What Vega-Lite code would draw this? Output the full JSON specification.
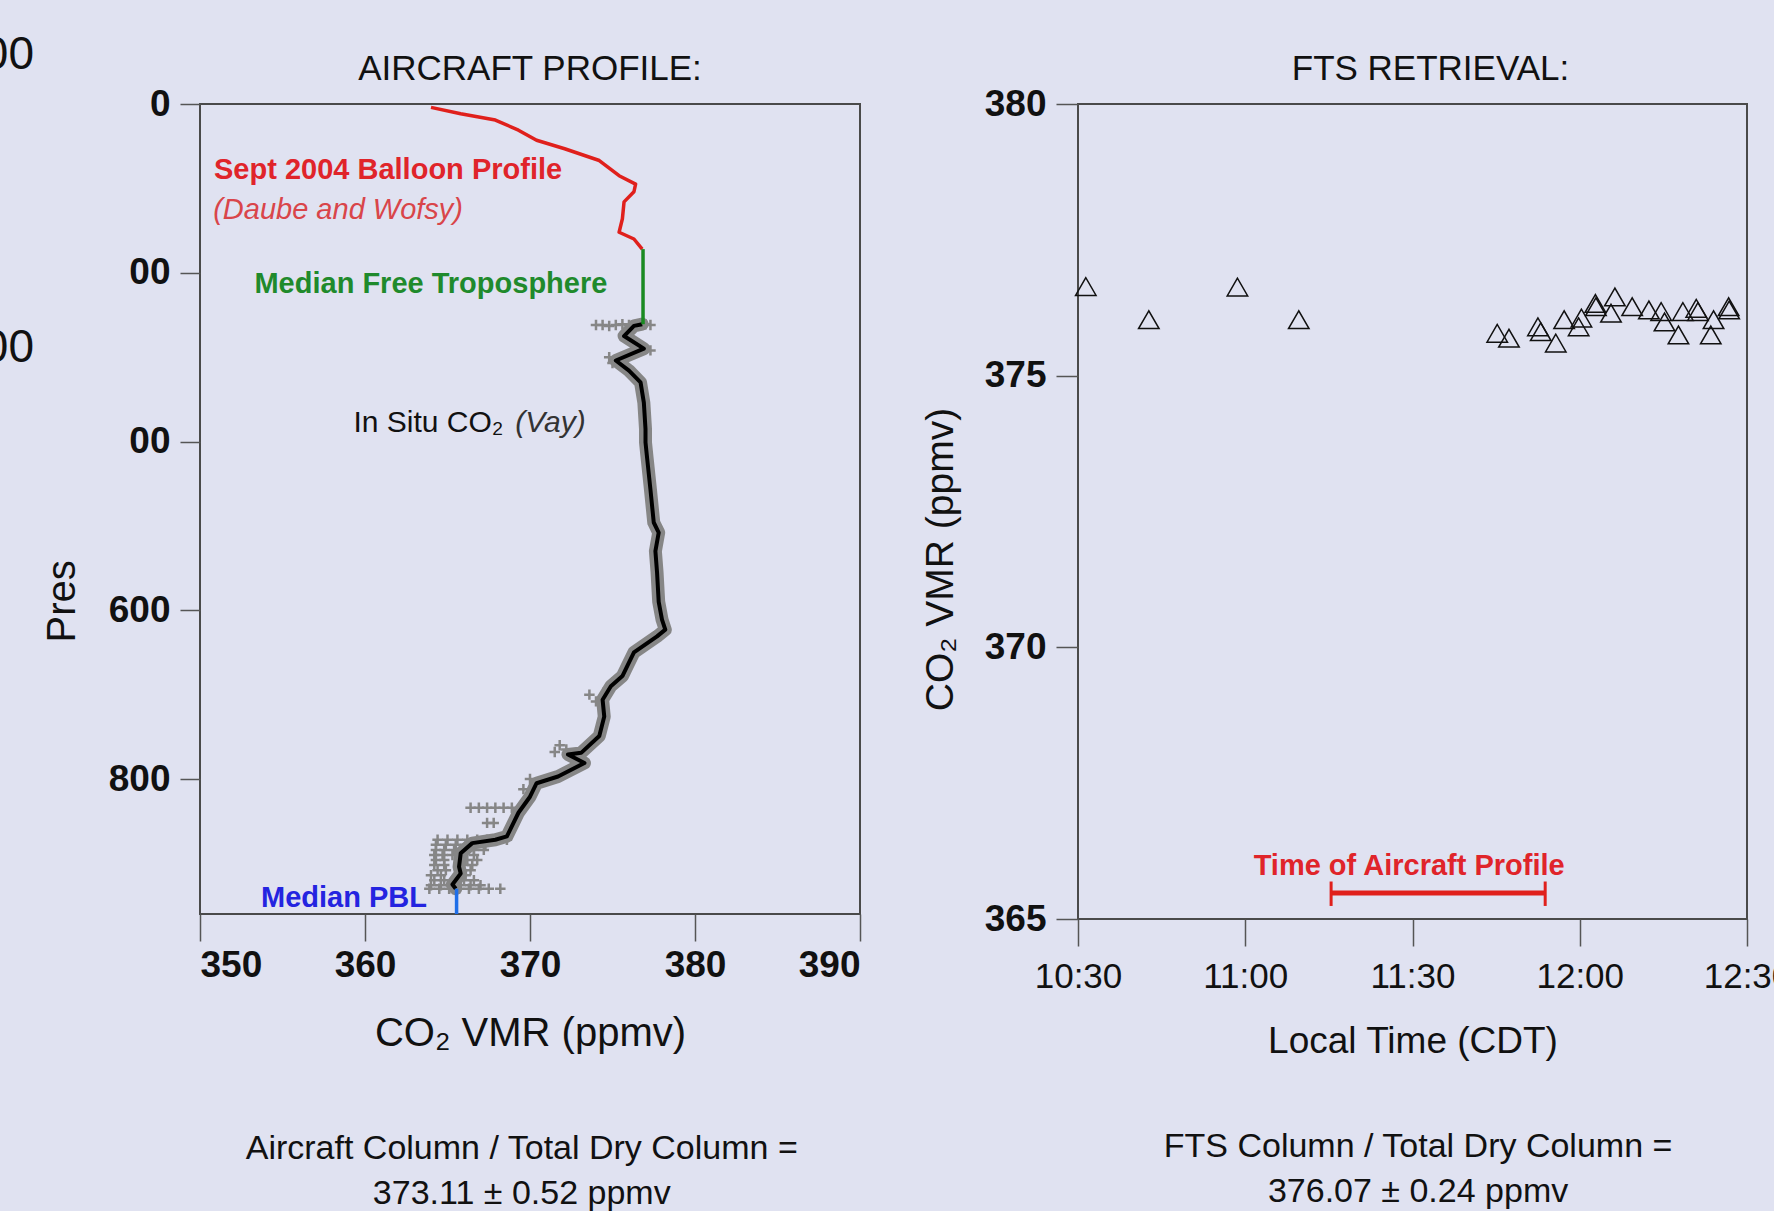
{
  "$schema": "https://vega.github.io/schema/vega-lite/v6.json",
  "background": "#e0e2f1",
  "padding": {"left": -19, "top": 30, "right": 0, "bottom": 0},
  "spacing": 58,
  "config": {
    "font": "Liberation Sans",
    "view": {"stroke": "#4a4a4a", "strokeWidth": 2},
    "axis": {"domain": false, "grid": false, "tickColor": "#555555", "tickWidth": 1.5, "labelColor": "#111111", "titleColor": "#111111", "titleFontWeight": "normal"}
  },
  "datasets": {
    "insitu": [
      {"co2": 376.8, "p": 261}, {"co2": 376.3, "p": 263}, {"co2": 375.7, "p": 275}, {"co2": 376.9, "p": 290},
      {"co2": 375.2, "p": 304}, {"co2": 376.0, "p": 316}, {"co2": 376.7, "p": 330}, {"co2": 376.9, "p": 354},
      {"co2": 377.0, "p": 385}, {"co2": 377.0, "p": 401}, {"co2": 377.1, "p": 420}, {"co2": 377.3, "p": 457},
      {"co2": 377.5, "p": 496}, {"co2": 377.8, "p": 508}, {"co2": 377.6, "p": 530}, {"co2": 377.7, "p": 555},
      {"co2": 377.8, "p": 590}, {"co2": 378.0, "p": 611}, {"co2": 378.2, "p": 623}, {"co2": 377.7, "p": 631},
      {"co2": 376.3, "p": 650}, {"co2": 375.9, "p": 666}, {"co2": 375.6, "p": 678}, {"co2": 374.9, "p": 690},
      {"co2": 374.4, "p": 706}, {"co2": 374.5, "p": 726}, {"co2": 374.2, "p": 749}, {"co2": 373.1, "p": 769},
      {"co2": 372.3, "p": 771}, {"co2": 373.3, "p": 781}, {"co2": 371.7, "p": 797}, {"co2": 370.4, "p": 805},
      {"co2": 370.0, "p": 821}, {"co2": 369.3, "p": 840}, {"co2": 369.0, "p": 852}, {"co2": 368.6, "p": 868},
      {"co2": 367.9, "p": 872}, {"co2": 366.5, "p": 876}, {"co2": 365.8, "p": 888}, {"co2": 365.7, "p": 904},
      {"co2": 365.8, "p": 912}, {"co2": 365.3, "p": 925}, {"co2": 365.5, "p": 930}
    ],
    "crosses": [
      {"co2": 374.0, "p": 262}, {"co2": 374.4, "p": 262}, {"co2": 374.8, "p": 263}, {"co2": 375.2, "p": 262}, {"co2": 375.6, "p": 261}, {"co2": 376.0, "p": 262}, {"co2": 376.6, "p": 262}, {"co2": 377.0, "p": 261}, {"co2": 377.3, "p": 262},
      {"co2": 374.8, "p": 300}, {"co2": 375.0, "p": 307}, {"co2": 377.3, "p": 292},
      {"co2": 375.0, "p": 686}, {"co2": 374.7, "p": 693}, {"co2": 373.6, "p": 700}, {"co2": 374.0, "p": 708},
      {"co2": 371.8, "p": 760}, {"co2": 372.2, "p": 765}, {"co2": 371.5, "p": 768},
      {"co2": 370.0, "p": 800}, {"co2": 370.5, "p": 808}, {"co2": 369.6, "p": 812},
      {"co2": 366.4, "p": 834}, {"co2": 366.9, "p": 834}, {"co2": 367.4, "p": 834}, {"co2": 367.9, "p": 834}, {"co2": 368.4, "p": 834}, {"co2": 368.9, "p": 834},
      {"co2": 367.4, "p": 852}, {"co2": 367.8, "p": 852},
      {"co2": 364.4, "p": 872}, {"co2": 365.0, "p": 872}, {"co2": 365.6, "p": 872}, {"co2": 366.2, "p": 872}, {"co2": 366.8, "p": 872}, {"co2": 367.4, "p": 872}, {"co2": 368.0, "p": 872}, {"co2": 368.6, "p": 872},
      {"co2": 364.3, "p": 878}, {"co2": 364.9, "p": 878}, {"co2": 365.5, "p": 878}, {"co2": 366.1, "p": 878}, {"co2": 366.7, "p": 878}, {"co2": 367.3, "p": 878},
      {"co2": 364.3, "p": 884}, {"co2": 364.8, "p": 884}, {"co2": 365.4, "p": 884}, {"co2": 366.0, "p": 884}, {"co2": 366.6, "p": 884}, {"co2": 367.2, "p": 884},
      {"co2": 364.2, "p": 890}, {"co2": 364.7, "p": 890}, {"co2": 365.3, "p": 890}, {"co2": 366.6, "p": 890},
      {"co2": 364.3, "p": 896}, {"co2": 364.8, "p": 896}, {"co2": 366.2, "p": 896}, {"co2": 366.8, "p": 896},
      {"co2": 364.2, "p": 902}, {"co2": 364.8, "p": 902}, {"co2": 366.0, "p": 902}, {"co2": 366.5, "p": 902},
      {"co2": 364.4, "p": 908}, {"co2": 364.9, "p": 908}, {"co2": 365.9, "p": 908}, {"co2": 366.4, "p": 908},
      {"co2": 364.0, "p": 914}, {"co2": 364.6, "p": 914}, {"co2": 366.1, "p": 914},
      {"co2": 364.2, "p": 920}, {"co2": 364.8, "p": 920}, {"co2": 366.0, "p": 920}, {"co2": 366.6, "p": 920},
      {"co2": 364.0, "p": 926}, {"co2": 364.6, "p": 926}, {"co2": 365.2, "p": 926}, {"co2": 365.8, "p": 926}, {"co2": 366.4, "p": 926}, {"co2": 367.0, "p": 926},
      {"co2": 363.9, "p": 930}, {"co2": 364.5, "p": 930}, {"co2": 365.1, "p": 930}, {"co2": 365.7, "p": 930}, {"co2": 366.3, "p": 930}, {"co2": 366.9, "p": 930}, {"co2": 367.5, "p": 930}, {"co2": 368.2, "p": 930}
    ],
    "balloon": [
      {"co2": 364.0, "p": 4}, {"co2": 365.8, "p": 11.5}, {"co2": 367.9, "p": 19}, {"co2": 369.3, "p": 31},
      {"co2": 370.4, "p": 43}, {"co2": 372.1, "p": 53}, {"co2": 374.2, "p": 67}, {"co2": 375.4, "p": 85},
      {"co2": 376.4, "p": 95}, {"co2": 376.3, "p": 104}, {"co2": 375.7, "p": 116}, {"co2": 375.6, "p": 136},
      {"co2": 375.4, "p": 152}, {"co2": 376.3, "p": 160}, {"co2": 376.8, "p": 172}
    ],
    "freetrop": [{"co2": 376.85, "p": 172}, {"co2": 376.85, "p": 261}],
    "pbl": [{"co2": 365.55, "p": 930}, {"co2": 365.55, "p": 960}],
    "fts": [
      {"t": "2004-09-15T10:31:24", "v": 376.64}, {"t": "2004-09-15T10:42:42", "v": 376.03},
      {"t": "2004-09-15T10:58:36", "v": 376.63}, {"t": "2004-09-15T11:09:36", "v": 376.03},
      {"t": "2004-09-15T11:45:12", "v": 375.78}, {"t": "2004-09-15T11:47:18", "v": 375.69},
      {"t": "2004-09-15T11:52:30", "v": 375.90}, {"t": "2004-09-15T11:53:00", "v": 375.81},
      {"t": "2004-09-15T11:55:42", "v": 375.60}, {"t": "2004-09-15T11:57:12", "v": 376.03},
      {"t": "2004-09-15T11:59:48", "v": 375.90}, {"t": "2004-09-15T12:00:18", "v": 376.06},
      {"t": "2004-09-15T12:02:54", "v": 376.27}, {"t": "2004-09-15T12:02:48", "v": 376.33},
      {"t": "2004-09-15T12:05:36", "v": 376.15}, {"t": "2004-09-15T12:06:18", "v": 376.45},
      {"t": "2004-09-15T12:09:24", "v": 376.27}, {"t": "2004-09-15T12:12:24", "v": 376.21},
      {"t": "2004-09-15T12:14:36", "v": 376.18}, {"t": "2004-09-15T12:15:12", "v": 375.99},
      {"t": "2004-09-15T12:17:42", "v": 375.75}, {"t": "2004-09-15T12:18:30", "v": 376.18},
      {"t": "2004-09-15T12:20:54", "v": 376.24}, {"t": "2004-09-15T12:21:12", "v": 376.18},
      {"t": "2004-09-15T12:23:30", "v": 375.75}, {"t": "2004-09-15T12:24:00", "v": 376.03},
      {"t": "2004-09-15T12:26:42", "v": 376.27}, {"t": "2004-09-15T12:26:48", "v": 376.21}
    ]
  },
  "hconcat": [
    {
      "width": 660,
      "height": 810,
      "title": {"text": "AIRCRAFT PROFILE:", "fontSize": 35, "fontWeight": "normal", "color": "#111111", "frame": "group", "baseline": "alphabetic", "offset": -83},
      "encoding": {
        "x": {"field": "co2", "type": "quantitative",
          "scale": {"domain": [350, 390], "nice": false, "zero": false},
          "axis": {"values": [350, 360, 370, 380, 390], "tickSize": 27, "labelPadding": 6, "labelFontWeight": "bold", "labelFontSize": 37,
            "title": "CO₂ VMR (ppmv)", "titleFontSize": 40, "titlePadding": 30}},
        "y": {"field": "p", "type": "quantitative",
          "scale": {"domain": [0, 960], "reverse": true, "nice": false, "zero": false},
          "axis": {"values": [0, 200, 400, 600, 800], "labelExpr": "datum.value == 200 || datum.value == 400 ? '00' : datum.label", "tickSize": 20, "labelPadding": 10, "labelFontWeight": "bold", "labelFontSize": 37,
            "title": "Pres", "titleFontSize": 40, "titleAngle": -90, "titleAlign": "left", "titleBaseline": "middle", "titleX": -138, "titleY": 538}}
      },
      "layer": [
        {"data": {"name": "insitu"}, "mark": {"type": "line", "stroke": "#868686", "strokeWidth": 13, "strokeJoin": "round", "strokeCap": "round"}, "encoding": {"order": {"field": "p"}}},
        {"data": {"name": "crosses"}, "mark": {"type": "point", "shape": "M-1,0L1,0M0,-1L0,1", "filled": false, "stroke": "#868686", "strokeWidth": 2.5, "size": 110, "opacity": 1}},
        {"data": {"name": "insitu"}, "mark": {"type": "line", "stroke": "#000000", "strokeWidth": 4, "strokeJoin": "round"}, "encoding": {"order": {"field": "p"}}},
        {"data": {"name": "balloon"}, "mark": {"type": "line", "stroke": "#e0201c", "strokeWidth": 3.5, "strokeJoin": "round"}, "encoding": {"order": {"field": "p"}}},
        {"data": {"name": "freetrop"}, "mark": {"type": "line", "stroke": "#1a8a22", "strokeWidth": 3.5}, "encoding": {"order": {"field": "p"}}},
        {"data": {"name": "pbl"}, "mark": {"type": "line", "stroke": "#1e6ee8", "strokeWidth": 3.5}, "encoding": {"order": {"field": "p"}}},
        {"data": {"values": [{"co2": 350.85, "p": 88.5, "label": "Sept 2004 Balloon Profile"}]},
          "mark": {"type": "text", "align": "left", "baseline": "alphabetic", "fontSize": 29, "fontWeight": "bold", "color": "#e0242a"},
          "encoding": {"text": {"field": "label"}}},
        {"data": {"values": [{"co2": 350.8, "p": 135.9, "label": "(Daube and Wofsy)"}]},
          "mark": {"type": "text", "align": "left", "baseline": "alphabetic", "fontSize": 29, "fontStyle": "italic", "color": "#d9454a"},
          "encoding": {"text": {"field": "label"}}},
        {"data": {"values": [{"co2": 353.3, "p": 223.6, "label": "Median Free Troposphere"}]},
          "mark": {"type": "text", "align": "left", "baseline": "alphabetic", "fontSize": 29, "fontWeight": "bold", "color": "#1f8a2c"},
          "encoding": {"text": {"field": "label"}}},
        {"data": {"values": [{"co2": 359.3, "p": 388.7, "label": "In Situ CO₂"}]},
          "mark": {"type": "text", "align": "left", "baseline": "alphabetic", "fontSize": 30, "color": "#111111"},
          "encoding": {"text": {"field": "label"}}},
        {"data": {"values": [{"co2": 369.1, "p": 388.7, "label": "(Vay)"}]},
          "mark": {"type": "text", "align": "left", "baseline": "alphabetic", "fontSize": 30, "fontStyle": "italic", "color": "#333333"},
          "encoding": {"text": {"field": "label"}}},
        {"data": {"values": [{"co2": 353.7, "p": 951.7, "label": "Median PBL"}]},
          "mark": {"type": "text", "align": "left", "baseline": "alphabetic", "fontSize": 29, "fontWeight": "bold", "color": "#2424e0"},
          "encoding": {"text": {"field": "label"}}},
        {"data": {"values": [{"co2": 339.94, "p": -41.5, "label": "00"}, {"co2": 339.94, "p": 305.8, "label": "00"}]},
          "mark": {"type": "text", "align": "right", "baseline": "alphabetic", "fontSize": 46, "color": "#111111"},
          "encoding": {"text": {"field": "label"}}},
        {"data": {"values": [{"co2": 369.5, "p": 1250.4, "label": "Aircraft Column / Total Dry Column ="}, {"co2": 369.5, "p": 1303.7, "label": "373.11 ± 0.52 ppmv"}]},
          "mark": {"type": "text", "align": "center", "baseline": "alphabetic", "fontSize": 34, "color": "#111111"},
          "encoding": {"text": {"field": "label"}}}
      ]
    },
    {
      "width": 669,
      "height": 815,
      "title": {"text": "FTS RETRIEVAL:", "fontSize": 35, "fontWeight": "normal", "color": "#111111", "frame": "group", "baseline": "alphabetic", "offset": -30, "dx": 18},
      "encoding": {
        "x": {"field": "t", "type": "temporal",
          "scale": {"domain": [{"year": 2004, "month": 9, "date": 15, "hours": 10, "minutes": 30}, {"year": 2004, "month": 9, "date": 15, "hours": 12, "minutes": 30}], "nice": false},
          "axis": {"values": [{"year": 2004, "month": 9, "date": 15, "hours": 10, "minutes": 30}, {"year": 2004, "month": 9, "date": 15, "hours": 11, "minutes": 0}, {"year": 2004, "month": 9, "date": 15, "hours": 11, "minutes": 30}, {"year": 2004, "month": 9, "date": 15, "hours": 12, "minutes": 0}, {"year": 2004, "month": 9, "date": 15, "hours": 12, "minutes": 30}],
            "format": "%H:%M", "tickSize": 27, "labelPadding": 13, "labelFontSize": 35, "labelFlush": false, "labelOverlap": false,
            "title": "Local Time (CDT)", "titleFontSize": 37, "titlePadding": 29}},
        "y": {"field": "v", "type": "quantitative",
          "scale": {"domain": [365, 380], "nice": false, "zero": false},
          "axis": {"values": [365, 370, 375, 380], "tickSize": 22, "labelPadding": 10, "labelFontWeight": "bold", "labelFontSize": 37,
            "title": "CO₂ VMR (ppmv)", "titleFontSize": 39, "titlePadding": 24, "titleY": 455}}
      },
      "layer": [
        {"data": {"name": "fts", "format": {"parse": {"t": "date"}}}, "mark": {"type": "point", "shape": "triangle-up", "filled": false, "stroke": "#111111", "strokeWidth": 1.5, "size": 420, "opacity": 1}},
        {"data": {"values": [{"t": "2004-09-15T11:15:24", "t2": "2004-09-15T11:53:48", "v": 365.48}], "format": {"parse": {"t": "date", "t2": "date"}}},
          "mark": {"type": "rule", "stroke": "#e0201c", "strokeWidth": 5},
          "encoding": {"x2": {"field": "t2"}}},
        {"data": {"values": [{"t": "2004-09-15T11:15:24", "v": 365.24, "v2": 365.69}, {"t": "2004-09-15T11:53:48", "v": 365.24, "v2": 365.69}], "format": {"parse": {"t": "date"}}},
          "mark": {"type": "rule", "stroke": "#e0201c", "strokeWidth": 3},
          "encoding": {"y2": {"field": "v2"}}},
        {"data": {"values": [{"t": "2004-09-15T11:29:24", "v": 365.81, "label": "Time of Aircraft Profile"}], "format": {"parse": {"t": "date"}}},
          "mark": {"type": "text", "align": "center", "baseline": "alphabetic", "fontSize": 29, "fontWeight": "bold", "color": "#e0242a"},
          "encoding": {"text": {"field": "label"}}},
        {"data": {"values": [{"t": "2004-09-15T11:31:00", "v": 360.62, "label": "FTS Column / Total Dry Column ="}, {"t": "2004-09-15T11:31:00", "v": 359.79, "label": "376.07 ± 0.24 ppmv"}], "format": {"parse": {"t": "date"}}},
          "mark": {"type": "text", "align": "center", "baseline": "alphabetic", "fontSize": 34, "color": "#111111"},
          "encoding": {"text": {"field": "label"}}}
      ]
    }
  ]
}
